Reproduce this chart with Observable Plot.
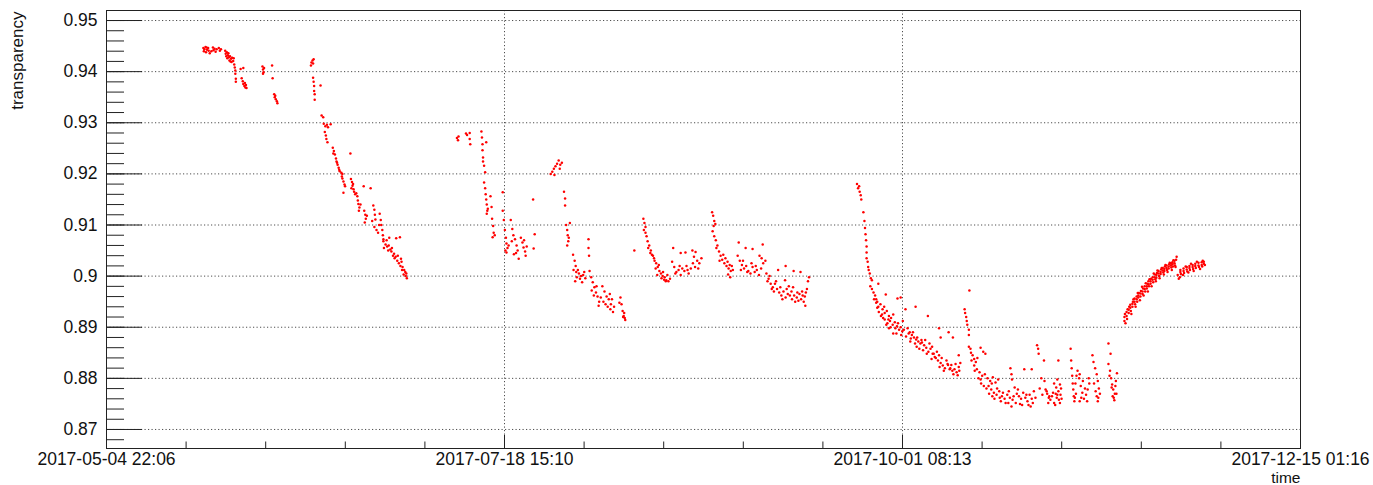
<!DOCTYPE html>
<html>
<head>
<meta charset="utf-8">
<script src="https://cdn.jsdelivr.net/npm/d3@7"></script>
<script src="https://cdn.jsdelivr.net/npm/@observablehq/plot@0.6"></script>
<style>
  html, body { margin: 0; padding: 0; background: #fff; }
  #chart svg { display: block; }
</style>
</head>
<body>
<div id="chart"></div>
<script>
// ---- Data: [day of 2017 (fractional, UTC, days since Jan 1 00:00), transparency] ----
const mayJun = [
[142.1,0.9446],[142.2,0.9440],[142.3,0.9444],[142.5,0.9448],[142.6,0.9438],[142.8,0.9443],[143.0,0.9446],[143.1,0.9441],[143.3,0.9436],[143.9,0.9447],[144.0,0.9442],[144.2,0.9445],[144.4,0.9439],[145.0,0.9446],[145.2,0.9441],[145.4,0.9444],
[142.7,0.9447],[143.6,0.9440],[144.6,0.9444],
[146.2,0.9441],[146.3,0.9435],[146.4,0.9430],[146.5,0.9438],[146.6,0.9426],[146.7,0.9432],[146.9,0.9428],[147.0,0.9422],[147.1,0.9430],[147.3,0.9425],[147.4,0.9419],[147.5,0.9427],[147.7,0.9421],[147.8,0.9426],
[146.8,0.9436],[147.2,0.9420],
[147.9,0.9414],[148.0,0.9408],[148.1,0.9402],[148.1,0.9396],[148.2,0.9386],[148.2,0.9380],
[149.1,0.9405],[149.6,0.9407],[149.3,0.9387],[149.5,0.9381],[149.6,0.9376],[149.8,0.9372],[149.9,0.9378],[150.0,0.9369],[150.1,0.9374],[150.2,0.9368],
[153.2,0.9410],[153.3,0.9404],[153.4,0.9399],[153.3,0.9396],[153.5,0.9407],
[155.0,0.9412],[155.1,0.9387],[155.4,0.9356],[155.5,0.9350],[155.7,0.9346],[155.9,0.9342],[156.0,0.9338],[155.6,0.9353],
[162.3,0.9412],[162.4,0.9418],[162.6,0.9422],[162.7,0.9416],[162.8,0.9424],
[162.7,0.9388],[162.8,0.9380],[162.9,0.9372],[162.9,0.9362],[163.0,0.9356],[163.0,0.9345],
[164.1,0.9373],[164.3,0.9314],[164.6,0.9311],
[164.7,0.9298],[165.0,0.9293],[165.3,0.9296],[165.5,0.9291],[166.0,0.9297],
[164.9,0.9282],[165.1,0.9275],[165.2,0.9268],[165.4,0.9262],
[166.4,0.9251],[166.6,0.9245],[166.8,0.9238],[167.0,0.9230],[167.1,0.9224],[167.3,0.9218],[167.5,0.9212],[167.6,0.9208],
[166.5,0.9240],[167.2,0.9222],[168.1,0.9195],
[167.7,0.9205],[168.0,0.9202],[168.2,0.9200],
[168.2,0.9191],[168.4,0.9185],[168.6,0.9179],[168.7,0.9176],[168.4,0.9163],
[169.7,0.9240],
[169.8,0.9190],[170.0,0.9184],[170.1,0.9177],[170.3,0.9170],[170.4,0.9165],[170.2,0.9180],
[169.9,0.9172],[170.6,0.9160],[171.6,0.9140],
[170.8,0.9162],[171.0,0.9156],[171.1,0.9148],[171.2,0.9141],[171.4,0.9134],[171.3,0.9128],
[172.2,0.9176],[173.5,0.9172],
[172.3,0.9128],[172.5,0.9120],[172.6,0.9112],[172.4,0.9105],[172.8,0.9118],[173.8,0.9108],
[174.0,0.9138],[174.2,0.9130],[174.3,0.9120],[174.4,0.9111],
[174.2,0.9096],[174.6,0.9090],[174.9,0.9085],[175.1,0.9100],
[175.2,0.9122],[175.4,0.9110],[175.5,0.9100],[175.7,0.9090],[175.8,0.9080],[175.9,0.9072],
[175.9,0.9068],[176.3,0.9062],[176.6,0.9058],[176.9,0.9060],[177.2,0.9052],[177.4,0.9048],[177.7,0.9040],[176.8,0.9050],
[176.0,0.9055],[176.5,0.9070],[177.5,0.9055],[178.0,0.9035],[178.6,0.9040],
[177.0,0.9075],[178.3,0.9074],[179.0,0.9076],
[177.9,0.9044],[178.2,0.9038],[178.5,0.9030],[178.8,0.9025],[179.1,0.9020],[179.3,0.9028],
[179.2,0.9034],[179.5,0.9018],[179.8,0.9012],[180.0,0.9008],[180.1,0.9000],[180.3,0.8996],[179.7,0.9003],
[179.4,0.9012],[180.2,0.9005]
];
const julAug = [
[189.7,0.9270],[189.9,0.9266],[190.0,0.9273],
[191.4,0.9279],[191.6,0.9276],
[192.1,0.9280],[192.1,0.9268],[192.2,0.9258],
[194.3,0.9283],
[194.4,0.9271],[194.5,0.9258],[194.5,0.9246],[194.6,0.9232],[194.8,0.9216],[195.0,0.9203],[194.6,0.9224],[195.2,0.9262],
[194.8,0.9183],[195.0,0.9172],[195.1,0.9160],[195.2,0.9150],[195.3,0.9140],[195.4,0.9128],[195.3,0.9122],[195.5,0.9132],
[196.0,0.9156],[196.2,0.9135],[196.3,0.9112],[196.5,0.9098],[196.6,0.9085],[196.4,0.9076],[196.8,0.9080],
[198.3,0.9164],
[198.3,0.9128],[198.5,0.9110],[198.7,0.9090],[198.9,0.9075],[199.0,0.9064],[199.2,0.9055],[199.0,0.9046],[198.8,0.9050],
[199.4,0.9060],[200.0,0.9068],[200.8,0.9045],
[199.8,0.9110],[200.1,0.9092],[200.3,0.9080],[200.6,0.9072],[200.9,0.9060],[201.1,0.9050],[200.4,0.9043],[201.3,0.9034],
[201.7,0.9075],[202.0,0.9066],[202.2,0.9056],[202.5,0.9048],[202.8,0.9058],[202.6,0.9040],[202.3,0.9070],
[204.0,0.9150],[204.3,0.9082],[204.1,0.9054],
[207.3,0.9200],[207.6,0.9204],[207.9,0.9210],[208.2,0.9215],[208.5,0.9220],[208.8,0.9226],[209.1,0.9218],[209.4,0.9222],[209.0,0.9210],[208.0,0.9198],
[209.8,0.9165],[210.0,0.9152],[210.0,0.9138],
[210.2,0.9100],[210.4,0.9090],[210.5,0.9080],[210.6,0.9068],[210.4,0.9060],[210.7,0.9075],
[210.9,0.9104],
[211.5,0.9042],[211.8,0.9030],[212.0,0.9020],[212.1,0.9008],[212.2,0.8998],[211.9,0.8990],
[211.6,0.9012],[212.4,0.9012],[212.8,0.8995],[213.6,0.9008],
[212.6,0.9005],[213.0,0.9000],[213.4,0.9002],[213.8,0.8996],[213.2,0.8988],
[214.4,0.9072],[214.4,0.9055],[214.5,0.9040],
[214.6,0.9010],[214.9,0.8998],[215.2,0.8988],[215.5,0.8978],[215.8,0.8968],[216.1,0.8960],[216.4,0.8950],[215.0,0.8972],
[215.4,0.8962],[215.9,0.8980],[216.3,0.8942],[216.7,0.8958],[217.2,0.8950],[217.6,0.8945],
[217.0,0.8980],[217.4,0.8970],[217.8,0.8960],[218.2,0.8955],[218.6,0.8945],[218.4,0.8965],
[218.0,0.8940],[218.5,0.8935],[219.0,0.8930],[218.8,0.8955],[219.2,0.8940],
[220.4,0.8958],[220.6,0.8945],[220.8,0.8932],[221.0,0.8922],[221.2,0.8918],[220.9,0.8920],[221.3,0.8914],
[220.2,0.8948],[221.1,0.8928],
[223.0,0.9050]
];
const augSep = [
[224.7,0.9112],[224.9,0.9104],[225.1,0.9096],[224.8,0.9090],
[225.1,0.9085],[225.3,0.9078],[225.5,0.9068],[225.8,0.9060],[226.1,0.9050],[226.3,0.9042],[225.6,0.9055],
[226.5,0.9040],[226.8,0.9030],[227.1,0.9025],[227.4,0.9018],[227.7,0.9010],[228.0,0.9005],[228.3,0.9000],[228.6,0.8993],[228.9,0.8990],[227.3,0.9002],[228.1,0.8996],
[226.0,0.9045],[226.7,0.9035],[227.0,0.9015],[227.6,0.9022],[228.4,0.9008],[229.2,0.9002],
[228.7,0.8998],[229.0,0.8992],[229.4,0.8990],[229.7,0.8995],
[230.3,0.9055],
[230.1,0.9028],[230.5,0.9018],[230.9,0.9008],[231.3,0.9012],[231.7,0.9002],[232.0,0.9015],[232.4,0.9010],[232.8,0.9020],[233.2,0.9005],[233.6,0.9015],[234.0,0.9025],[234.4,0.9018],[234.8,0.9030],[235.2,0.9025],[235.6,0.9035],
[230.7,0.9005],[231.5,0.9020],[233.0,0.9012],[235.0,0.9015],
[231.7,0.9045],[232.6,0.9046],[233.9,0.9050],[234.5,0.9047],[234.2,0.9038],
[237.6,0.9125],[237.8,0.9118],[238.0,0.9108],[237.9,0.9098],[238.2,0.9102],
[237.7,0.9088],[238.0,0.9078],[238.3,0.9070],[238.6,0.9060],[238.4,0.9055],
[238.9,0.9048],[239.2,0.9040],[239.5,0.9032],[239.9,0.9025],[240.3,0.9020],[240.7,0.9015],[241.1,0.9010],[241.5,0.9012],[240.1,0.9035],[240.9,0.9022],
[239.0,0.9030],[239.7,0.9042],[240.5,0.9028],[241.3,0.9020],
[240.6,0.9003],[241.0,0.8998],
[242.6,0.9066],[243.9,0.9055],[245.2,0.9053],[247.1,0.9062],
[242.4,0.9040],[242.8,0.9030],[243.2,0.9022],[243.6,0.9015],[244.0,0.9020],[244.4,0.9010],[244.8,0.9005],[245.2,0.9018],[245.6,0.9008],[246.0,0.9012],[246.4,0.9002],[246.8,0.9015],[247.2,0.9025],[247.6,0.9030],
[243.0,0.9012],[243.4,0.9030],[244.2,0.9008],[245.0,0.9025],[245.8,0.9020],
[246.5,0.9040],[246.9,0.9035],
[247.8,0.9005],[248.2,0.8995],[248.6,0.8985],[249.0,0.8978],[249.4,0.8985],[249.8,0.8975],[250.2,0.8968],[250.6,0.8962],[251.0,0.8970],[251.4,0.8958],[251.8,0.8965],[248.0,0.8990],[249.2,0.8970],
[248.4,0.9000],[248.8,0.8975],[249.6,0.8990],[250.4,0.8978],[250.8,0.8955],[251.6,0.8975],
[251.3,0.8992],[252.0,0.8980],[252.5,0.8970],[253.0,0.8962],[253.5,0.8958],[254.0,0.8965],[254.5,0.8970],[255.0,0.8960],[255.4,0.8975],[255.6,0.8990],[255.8,0.8998],[252.6,0.8955],[253.8,0.8952],[254.8,0.8950],
[252.2,0.8962],[252.8,0.8978],[253.2,0.8950],[253.6,0.8968],[254.3,0.8955],[254.6,0.8962],[255.2,0.8968],
[255.1,0.8942],
[252.9,0.9010],[254.2,0.9008],[251.4,0.9020],[250.0,0.9012]
];
const octNov = [
[264.8,0.9180],[265.0,0.9172],[265.3,0.9165],[265.5,0.9158],[265.6,0.9150],[265.2,0.9176],
[266.0,0.9125],
[266.2,0.9108],[266.3,0.9094],[266.4,0.9082],[266.5,0.9070],[266.6,0.9058],[266.6,0.9046],
[266.6,0.9035],[266.8,0.9028],[266.9,0.9018],[267.0,0.9012],[267.2,0.9005],[267.4,0.8996],[267.6,0.8992],
[267.3,0.8980],[267.6,0.8975],[267.9,0.8968],[268.2,0.8962],[268.4,0.8955],[268.6,0.8950],
[268.8,0.8985],
[268.0,0.8955],[268.4,0.8948],[268.8,0.8940],[269.2,0.8945],[269.6,0.8935],[270.0,0.8928],[270.4,0.8932],[270.8,0.8922],[271.2,0.8918],[271.6,0.8925],[268.6,0.8938],[269.9,0.8940],
[270.2,0.8964],[272.4,0.8956],
[269.5,0.8925],[270.0,0.8915],[270.5,0.8908],[271.0,0.8912],[271.5,0.8905],[272.0,0.8898],[272.5,0.8908],[273.0,0.8900],[273.3,0.8892],[270.8,0.8898],[272.2,0.8888],[273.4,0.8912],
[271.6,0.8888],
[268.9,0.8930],[269.3,0.8922],[269.7,0.8918],[270.3,0.8905],[270.7,0.8915],[271.1,0.8900],[271.9,0.8910],[272.3,0.8902],[272.7,0.8895],[273.1,0.8885],[273.6,0.8895],[274.0,0.8882],
[274.3,0.8898],[274.7,0.8890],[275.1,0.8885],[275.5,0.8880],[275.9,0.8876],[276.3,0.8872],[276.7,0.8868],[274.9,0.8878],[276.0,0.8862],
[274.5,0.8888],[274.8,0.8872],[275.3,0.8890],[275.7,0.8868],[276.1,0.8880],[276.5,0.8858],[276.9,0.8875],[277.2,0.8855],
[275.8,0.8940],[278.1,0.8922],[273.0,0.8958],[273.9,0.8935],
[277.0,0.8870],[277.4,0.8865],[277.8,0.8860],[278.2,0.8852],[278.6,0.8858],[279.0,0.8848],[279.4,0.8842],[277.6,0.8875],[278.9,0.8862],
[277.9,0.8848],[278.4,0.8868],[278.8,0.8838],[279.8,0.8852],[280.3,0.8822],[280.7,0.8840],[281.1,0.8815],[281.6,0.8835],
[280.2,0.8898],[280.5,0.8880],
[279.2,0.8848],[279.6,0.8840],[280.0,0.8835],[280.5,0.8830],[280.9,0.8825],[281.3,0.8820],[281.8,0.8828],[282.2,0.8818],[280.2,0.8845],
[281.9,0.8826],[282.3,0.8820],[282.7,0.8815],[283.1,0.8818],[283.5,0.8812],[283.9,0.8822],[284.2,0.8830],
[282.5,0.8826],[282.9,0.8808],[283.3,0.8828],[283.7,0.8806],[284.0,0.8815],
[283.9,0.8845],[282.0,0.8890],[282.8,0.8880],
[285.0,0.8935],[285.1,0.8928],[285.3,0.8920],[285.4,0.8912],[285.5,0.8905],[285.9,0.8972],
[285.8,0.8895],[285.8,0.8885],
[285.8,0.8862],[286.2,0.8850],[286.5,0.8845],[286.8,0.8838],[287.1,0.8832],[287.4,0.8840],[286.1,0.8858],
[288.0,0.8860],[288.5,0.8852],[288.9,0.8848],
[286.8,0.8825],[287.3,0.8818],[287.8,0.8812],[288.3,0.8805],[288.8,0.8808],[289.3,0.8800],[289.8,0.8795],[290.3,0.8802],[290.8,0.8792],[291.3,0.8798],[288.0,0.8798],
[286.3,0.8835],[286.9,0.8815],[287.6,0.8800],[288.1,0.8790],[288.6,0.8785],[289.1,0.8780],[289.6,0.8770],[290.1,0.8790],
[289.5,0.8785],[290.0,0.8778],[290.5,0.8772],[291.0,0.8768],[291.5,0.8775],[292.0,0.8765],[292.5,0.8760],[293.0,0.8768],[293.5,0.8762],[294.0,0.8758],[290.2,0.8765],[291.8,0.8755],[293.2,0.8752],
[290.6,0.8760],[291.1,0.8780],[291.6,0.8762],[292.2,0.8772],[292.7,0.8752],[293.3,0.8775],[293.8,0.8745],
[293.6,0.8820],[293.8,0.8808],[293.9,0.8798],
[294.4,0.8782],[294.8,0.8770],[295.2,0.8765],[295.6,0.8760],[296.0,0.8772],[296.4,0.8762],[296.8,0.8755],[297.2,0.8768],[297.6,0.8760],[298.0,0.8775],[295.4,0.8750],[297.0,0.8748],
[294.2,0.8765],[294.6,0.8752],[295.0,0.8778],[295.8,0.8748],[296.6,0.8768],[297.4,0.8745],[297.8,0.8752],[298.3,0.8762],
[296.2,0.8818],[297.6,0.8818],
[298.6,0.8865],[298.8,0.8858],[298.9,0.8848],[299.9,0.8835],
[299.4,0.8800],[300.0,0.8795],[299.1,0.8780],[299.6,0.8768],
[300.2,0.8778],[300.5,0.8770],[300.8,0.8762],[301.1,0.8758],[301.4,0.8765],
[300.4,0.8775],[300.9,0.8765],[301.8,0.8752],[302.3,0.8762],[302.0,0.8748],[300.7,0.8752],
[301.8,0.8790],[302.2,0.8782],[302.6,0.8775],[303.0,0.8768],[303.2,0.8760],[302.4,0.8798],[302.9,0.8788],
[301.6,0.8772],[302.1,0.8770],[303.1,0.8780],
[302.6,0.8835],
[302.4,0.8768],[302.7,0.8758],[302.9,0.8752],
[305.0,0.8835],[305.1,0.8820],[305.2,0.8805],[305.3,0.8790],[305.4,0.8778],[305.5,0.8765],[305.6,0.8755],[305.9,0.8770],
[305.7,0.8762],[305.8,0.8790],[306.0,0.8805],
[304.9,0.8858],
[306.2,0.8815],[306.5,0.8800],[306.8,0.8785],[307.1,0.8772],[307.4,0.8760],[307.8,0.8768],[308.1,0.8778],[308.4,0.8790],[306.6,0.8755],
[306.9,0.8762],[307.6,0.8780],[308.0,0.8755],[308.3,0.8800],
[306.6,0.8808],[307.2,0.8795],
[309.0,0.8845],
[309.2,0.8832],[309.5,0.8820],[309.8,0.8808],[310.0,0.8795],[310.2,0.8780],[310.4,0.8770],
[309.3,0.8790],[309.6,0.8775],[310.1,0.8762],
[309.8,0.8765],[310.0,0.8755],
[312.0,0.8868],[312.4,0.8848],
[312.0,0.8828],[312.3,0.8815],[312.5,0.8800],[312.7,0.8788],[312.9,0.8778],[313.2,0.8770],[313.4,0.8795],[313.6,0.8810],[313.0,0.8762],
[312.2,0.8805],[312.6,0.8782],[312.8,0.8765],[313.3,0.8785],[313.5,0.8770],
[313.1,0.8757]
];
const novDec = [
[315.0,0.8912],[315.0,0.8920],[315.1,0.8926],[315.2,0.8908],
[315.4,0.8922],[315.4,0.8930],[315.5,0.8916],[315.6,0.8935],
[315.8,0.8934],[315.8,0.8928],[315.9,0.8940],
[316.1,0.8938],[316.1,0.8944],[316.2,0.8932],[316.3,0.8926],
[316.5,0.8946],[316.5,0.8940],[316.6,0.8950],[316.7,0.8955],
[316.9,0.8950],[316.9,0.8956],[317.0,0.8945],[317.1,0.8940],
[317.3,0.8955],[317.3,0.8960],[317.4,0.8950],[317.5,0.8967],
[317.6,0.8962],[317.6,0.8958],[317.7,0.8967],[317.9,0.8953],
[318.0,0.8966],[318.0,0.8960],[318.1,0.8971],[318.3,0.8979],
[318.4,0.8970],[318.4,0.8965],[318.5,0.8976],[318.6,0.8962],
[318.8,0.8975],[318.8,0.8980],[318.9,0.8970],[319.0,0.8986],
[319.2,0.8980],[319.2,0.8976],[319.3,0.8985],[319.4,0.8970],
[319.5,0.8984],[319.5,0.8990],[319.6,0.8980],[319.7,0.8994],
[319.9,0.8990],[319.9,0.8985],[320.0,0.8995],[320.1,0.8980],
[320.3,0.8993],[320.3,0.8998],[320.4,0.8988],[320.5,0.9005],
[320.7,0.8998],[320.7,0.9003],[320.8,0.8994],[320.9,0.8990],
[321.0,0.9002],[321.0,0.8997],[321.1,0.9006],[321.2,0.9011],
[321.4,0.9005],[321.4,0.9010],[321.5,0.9000],[321.6,0.8996],
[321.8,0.9008],[321.8,0.9004],[321.9,0.9013],[322.0,0.9016],
[322.2,0.9011],[322.2,0.9016],[322.3,0.9007],[322.4,0.9003],
[322.5,0.9014],[322.5,0.9010],[322.6,0.9019],[322.7,0.9022],
[322.9,0.9016],[322.9,0.9021],[323.0,0.9012],[323.1,0.9008],
[323.3,0.9019],[323.3,0.9015],[323.4,0.9023],[323.5,0.9026],
[323.7,0.9021],[323.7,0.9025],[323.8,0.9017],[323.9,0.9012],
[324.0,0.9023],[324.0,0.9027],[324.1,0.9019],[324.2,0.9031],
[324.4,0.9025],[324.4,0.9030],[324.5,0.9021],[324.6,0.9018],
[324.8,0.9038],[324.7,0.9032],
[325.0,0.9002],[325.2,0.8995],[325.4,0.8998],
[325.5,0.9008],[325.5,0.9012],[325.6,0.9004],
[326.0,0.9002],[326.1,0.9010],[326.1,0.9015],[326.2,0.9006],[326.5,0.9019],
[326.7,0.9013],[326.7,0.9018],[326.8,0.9009],[327.0,0.9007],
[327.2,0.9016],[327.2,0.9020],[327.3,0.9012],[327.5,0.9024],
[327.8,0.9018],[327.8,0.9022],[327.9,0.9014],[328.0,0.9010],
[328.3,0.9020],[328.3,0.9024],[328.4,0.9016],[328.6,0.9028],
[328.9,0.9021],[328.9,0.9026],[329.0,0.9018],[329.2,0.9014],
[329.5,0.9022],[329.5,0.9027],[329.6,0.9019],[329.7,0.9030],
[329.9,0.9024],[329.9,0.9028],[330.1,0.9022]
];

// ---- Axis labels / ticks ----
const xTickLabels = ["2017-05-04 22:06", "2017-07-18 15:10", "2017-10-01 08:13", "2017-12-15 01:16"];
const yTickLabels = ["0.87", "0.88", "0.89", "0.9", "0.91", "0.92", "0.93", "0.94", "0.95"];
const xTitle = "time";
const yTitle = "transparency";

// ---- Build ----
const parseTime = d3.utcParse("%Y-%m-%d %H:%M");
const yearStart = Date.UTC(2017, 0, 1);
const toDate = d => new Date(yearStart + d * 864e5);
const points = [...mayJun, ...julAug, ...augSep, ...octNov, ...novDec]
  .map(([d, v]) => ({time: toDate(d), transparency: v}));

const xMajor = xTickLabels.map(parseTime);
const t0 = xMajor[0], t1 = xMajor[xMajor.length - 1];
const xMinor = d3.range(16).map(i => new Date(+t0 + i * (t1 - t0) / 15));
const yDomain = [0.86628, 0.95196];
const yMajor = yTickLabels.map(Number);
const yMinor = d3.range(433, 477).map(i => +(i * 0.002).toFixed(3))
  .filter(v => v >= yDomain[0] && v <= yDomain[1]);

const W = 1373, H = 485, ML = 106, MR = 73, MT = 10, MB = 37;
const innerW = W - ML - MR, innerH = H - MT - MB;
const gridStyle = {stroke: "#3a3a3a", strokeWidth: 0.9, strokeDasharray: "1.2,2.3"};

const chart = Plot.plot({
  width: W, height: H,
  marginLeft: ML, marginRight: MR, marginTop: MT, marginBottom: MB,
  style: {fontFamily: "'Liberation Sans', Arial, Helvetica, sans-serif", fontSize: "17.5px", color: "#111", background: "#fff"},
  x: {type: "utc", domain: [t0, t1], axis: null},
  y: {domain: yDomain, axis: null},
  marks: [
    Plot.ruleY(yMajor, {y: d => d, ...gridStyle}),
    Plot.ruleX(xMajor.slice(1, -1), {x: d => d, ...gridStyle}),
    Plot.dot(points, {x: "time", y: "transparency", r: 1.25, fill: "#ff0000", stroke: null}),
    Plot.ruleY(yMinor, {y: d => d, insetRight: innerW - 18, stroke: "#222", strokeWidth: 1}),
    Plot.ruleY(yMajor, {y: d => d, insetRight: innerW - 36, stroke: "#222", strokeWidth: 1}),
    Plot.ruleX(xMinor, {x: d => d, insetTop: innerH - 6.5, stroke: "#222", strokeWidth: 1}),
    Plot.ruleX(xMajor, {x: d => d, insetTop: innerH - 13, stroke: "#222", strokeWidth: 1}),
    Plot.frame({stroke: "#222", strokeWidth: 1}),
    Plot.text(yTickLabels, {y: d => +d, text: d => d, frameAnchor: "left", dx: -9, textAnchor: "end", lineAnchor: "middle", fill: "#111"}),
    Plot.text(xTickLabels, {x: d => parseTime(d), text: d => d, frameAnchor: "bottom", dy: 16, lineAnchor: "bottom", textAnchor: "middle", fill: "#111"}),
    Plot.text([xTitle], {text: d => d, frameAnchor: "bottom-right", dy: 34, textAnchor: "end", lineAnchor: "bottom", fontSize: 15.5, fill: "#111"}),
    Plot.text([yTitle], {text: d => d, frameAnchor: "top-left", dx: -84, dy: 1, rotate: -90, textAnchor: "end", lineAnchor: "bottom", fontSize: 17, fill: "#111"})
  ]
});
document.getElementById("chart").appendChild(chart);
</script>
</body>
</html>
